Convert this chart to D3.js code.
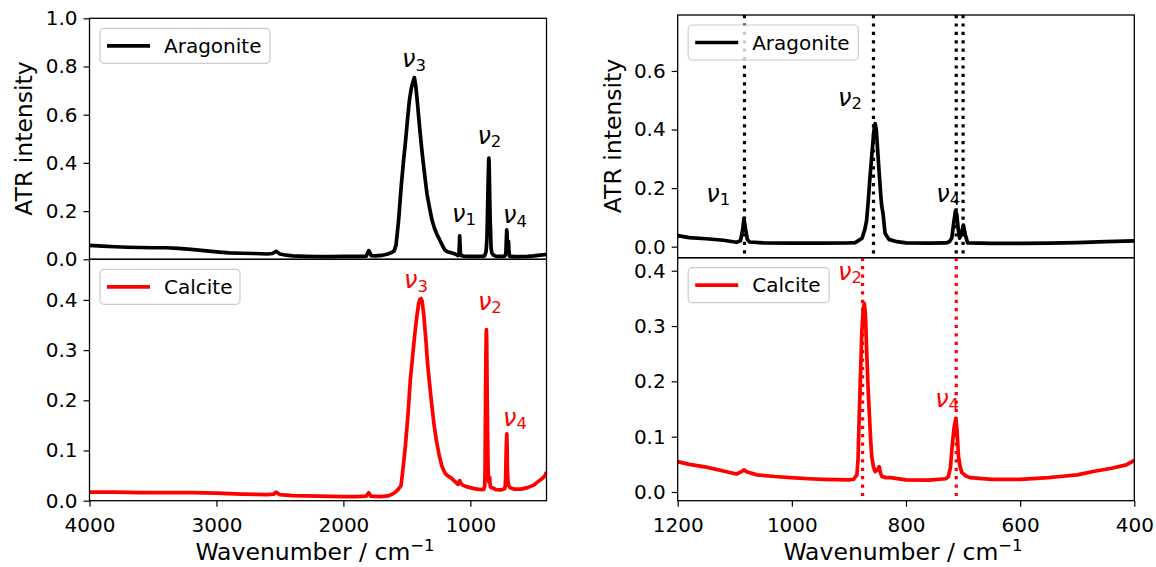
<!DOCTYPE html>
<html>
<head>
<meta charset="utf-8">
<script src="https://cdn.jsdelivr.net/npm/d3@7"></script>
<style>
  body { margin: 0; background: #ffffff; }
  svg { display: block; }
  text { font-family: "DejaVu Sans", sans-serif; fill: #000; }
</style>
</head>
<body>
<svg id="fig" width="1156" height="567"></svg>
<script>
// ---- ATR spectra (wavenumber in cm^-1, intensity) ----
const aragoniteWn = [4000, 3900, 3800, 3700, 3600, 3500, 3400, 3300, 3200, 3100, 3000, 2900, 2800, 2700, 2600, 2560, 2530, 2500, 2450, 2400, 2300, 2200, 2100, 2000, 1900, 1820, 1800, 1780, 1750, 1700, 1650, 1620, 1600, 1585, 1565, 1545, 1526, 1512, 1495, 1480, 1465, 1455, 1441, 1430, 1415, 1400, 1385, 1373, 1355, 1341, 1320, 1302, 1280, 1260, 1236, 1215, 1200, 1180, 1150, 1120, 1097, 1090, 1086, 1084, 1082, 1078, 1074, 1050, 1000, 950, 900, 889, 877, 872, 869, 866, 863, 860, 857, 855, 854, 852, 849, 846.6, 844, 842.4, 840, 838, 836.6, 830, 816, 800, 760, 730, 724, 719.7, 716.6, 713.4, 711, 708.5, 706, 703, 699.4, 696, 692, 650, 600, 550, 500, 450, 400];
const aragoniteI = [0.058, 0.055, 0.052, 0.050, 0.049, 0.048, 0.048, 0.045, 0.041, 0.036, 0.031, 0.027, 0.025, 0.024, 0.022, 0.024, 0.033, 0.022, 0.017, 0.014, 0.012, 0.011, 0.011, 0.012, 0.012, 0.013, 0.036, 0.015, 0.014, 0.016, 0.022, 0.028, 0.035, 0.060, 0.163, 0.300, 0.410, 0.480, 0.580, 0.660, 0.710, 0.730, 0.754, 0.720, 0.640, 0.550, 0.470, 0.410, 0.330, 0.270, 0.210, 0.163, 0.125, 0.100, 0.075, 0.052, 0.038, 0.031, 0.027, 0.022, 0.015, 0.020, 0.060, 0.097, 0.070, 0.025, 0.016, 0.013, 0.012, 0.012, 0.013, 0.014, 0.029, 0.060, 0.090, 0.160, 0.240, 0.310, 0.380, 0.415, 0.420, 0.400, 0.310, 0.240, 0.170, 0.137, 0.110, 0.070, 0.046, 0.025, 0.017, 0.013, 0.012, 0.013, 0.017, 0.030, 0.078, 0.122, 0.110, 0.060, 0.029, 0.045, 0.074, 0.040, 0.013, 0.011, 0.011, 0.012, 0.014, 0.017, 0.020];

const calciteWn = [4000, 3800, 3600, 3400, 3200, 3000, 2800, 2600, 2550, 2530, 2500, 2400, 2200, 2000, 1900, 1820, 1800, 1785, 1700, 1640, 1600, 1570, 1546, 1530, 1512, 1490, 1473, 1450, 1434, 1420, 1407, 1395, 1389, 1380, 1368, 1350, 1337, 1320, 1302, 1285, 1268, 1245, 1223, 1200, 1180, 1150, 1120, 1097, 1088, 1084, 1078, 1061, 1030, 1002, 970, 945, 900, 892, 886, 884, 882, 879.5, 877.5, 875, 873, 871, 869, 866.5, 864, 862, 860, 857, 854, 850, 847, 845, 842.4, 835, 827, 800, 760, 730, 725.7, 722, 719.7, 716, 712.7, 710.5, 708, 705, 702, 695, 688, 650, 600, 550, 530, 500, 472, 440, 414, 400];
const calciteI = [0.017, 0.017, 0.016, 0.016, 0.016, 0.015, 0.013, 0.012, 0.013, 0.017, 0.012, 0.010, 0.009, 0.008, 0.008, 0.009, 0.016, 0.009, 0.008, 0.010, 0.015, 0.022, 0.030, 0.065, 0.108, 0.175, 0.240, 0.300, 0.340, 0.370, 0.393, 0.402, 0.403, 0.398, 0.373, 0.320, 0.274, 0.230, 0.187, 0.150, 0.121, 0.090, 0.068, 0.055, 0.050, 0.045, 0.038, 0.0325, 0.037, 0.040, 0.036, 0.031, 0.028, 0.026, 0.024, 0.023, 0.022, 0.023, 0.031, 0.060, 0.136, 0.220, 0.287, 0.330, 0.341, 0.320, 0.257, 0.190, 0.136, 0.095, 0.064, 0.045, 0.037, 0.040, 0.046, 0.036, 0.028, 0.026, 0.026, 0.022, 0.0215, 0.024, 0.028, 0.045, 0.076, 0.115, 0.133, 0.110, 0.064, 0.045, 0.035, 0.029, 0.026, 0.023, 0.023, 0.026, 0.028, 0.031, 0.037, 0.043, 0.049, 0.057];

// ---- axis ticks ----
const fullRangeTicks = [4000, 3000, 2000, 1000];
const zoomRangeTicks = [1200, 1000, 800, 600, 400];
const fullTopTicks = [0.0, 0.2, 0.4, 0.6, 0.8, 1.0];
const fullBottomTicks = [0.0, 0.1, 0.2, 0.3, 0.4];
const zoomTopTicks = [0.0, 0.2, 0.4, 0.6];
const zoomBottomTicks = [0.0, 0.1, 0.2, 0.3, 0.4];

// ---- band positions (dotted guides in the fingerprint region) ----
const aragoniteBands = [1083, 857, 712, 700];
const calciteBands = [876, 712];

// ---- mode labels: subscript index, wavenumber and intensity of the text baseline ----
const fullAragLabelSub = ["3", "2", "1", "4"];
const fullAragLabelWn = [1444, 850, 1050, 648];
const fullAragLabelY = [0.797, 0.48, 0.156, 0.149];
const fullCalcLabelSub = ["3", "2", "4"];
const fullCalcLabelWn = [1428, 846, 648];
const fullCalcLabelY = [0.423, 0.38, 0.149];
const zoomAragLabelSub = ["1", "2", "4"];
const zoomAragLabelWn = [1129, 898, 726];
const zoomAragLabelY = [0.154, 0.481, 0.154];
const zoomCalcLabelSub = ["2", "4"];
const zoomCalcLabelWn = [898, 728];
const zoomCalcLabelY = [0.384, 0.154];

const svg = d3.select("#fig");
const aragonite = aragoniteWn.map((w, i) => ({ wn: w, v: aragoniteI[i] }));
const calcite = calciteWn.map((w, i) => ({ wn: w, v: calciteI[i] }));
const zip = (sub, wn, y) => sub.map((s, i) => ({ sub: s, wn: wn[i], y: y[i] }));

let clipId = 0;
function panel(cfg) {
  const x = d3.scaleLinear().domain(cfg.xDomain).range([cfg.left, cfg.right]);
  const y = d3.scaleLinear().domain(cfg.yDomain).range([cfg.bottom, cfg.top]);
  const g = svg.append("g");
  const id = "clip" + (clipId++);
  svg.append("clipPath").attr("id", id).append("rect")
    .attr("x", cfg.left).attr("y", cfg.top)
    .attr("width", cfg.right - cfg.left).attr("height", cfg.bottom - cfg.top);

  const plot = g.append("g").attr("clip-path", `url(#${id})`);
  plot.append("path").datum(cfg.data)
    .attr("fill", "none").attr("stroke", cfg.color).attr("stroke-width", 3.7)
    .attr("stroke-linejoin", "round")
    .attr("d", d3.line().x(d => x(d.wn)).y(d => y(d.v)));

  if (cfg.bands) {
    plot.selectAll("line.band").data(cfg.bands).enter().append("line")
      .attr("class", "band")
      .attr("x1", d => x(d)).attr("x2", d => x(d))
      .attr("y1", cfg.top).attr("y2", cfg.bottom)
      .attr("stroke", cfg.color).attr("stroke-width", 3.2)
      .attr("stroke-dasharray", "3.2,5.2");
  }

  // mode labels
  cfg.labels.forEach(l => {
    const t = g.append("text")
      .attr("x", x(l.wn)).attr("y", y(l.y))
      .attr("text-anchor", "middle").attr("font-size", 24)
      .style("fill", cfg.color);
    t.append("tspan").attr("font-style", "italic").text("\u03bd");
    t.append("tspan").attr("font-size", 16.5).attr("dy", 3.5).text(l.sub);
  });

  // y axis
  const ya = g.append("g").attr("transform", `translate(${cfg.left},0)`)
    .call(d3.axisLeft(y).tickValues(cfg.yTicks).tickFormat(d3.format(".1f"))
      .tickSize(6).tickPadding(6).tickSizeOuter(0));
  ya.select(".domain").remove();
  ya.selectAll("line").attr("stroke", "#000").attr("stroke-width", 1.2);
  ya.selectAll("text").attr("font-size", 20).attr("font-family", "DejaVu Sans").style("fill", "#000");

  if (cfg.xTicks) {
    const xa = g.append("g").attr("transform", `translate(0,${cfg.bottom})`)
      .call(d3.axisBottom(x).tickValues(cfg.xTicks).tickFormat(d3.format("d"))
        .tickSize(6).tickPadding(11).tickSizeOuter(0));
    xa.select(".domain").remove();
    xa.selectAll("line").attr("stroke", "#000").attr("stroke-width", 1.2);
    xa.selectAll("text").attr("font-size", 20).attr("font-family", "DejaVu Sans").style("fill", "#000");
  }

  // frame
  g.append("rect").attr("x", cfg.left).attr("y", cfg.top)
    .attr("width", cfg.right - cfg.left).attr("height", cfg.bottom - cfg.top)
    .attr("fill", "none").attr("stroke", "#000").attr("stroke-width", 1.3);

  // legend
  const lx = cfg.left + 10.5, ly = cfg.top + 10;
  const lg = g.append("g");
  lg.append("rect").attr("x", lx).attr("y", ly).attr("width", cfg.legendWidth).attr("height", 35)
    .attr("rx", 4).attr("fill", "#ffffff").attr("fill-opacity", 0.8)
    .attr("stroke", "#cccccc").attr("stroke-width", 1.2);
  lg.append("line").attr("x1", lx + 7).attr("x2", lx + 50)
    .attr("y1", ly + 17.5).attr("y2", ly + 17.5)
    .attr("stroke", cfg.color).attr("stroke-width", 3.7);
  lg.append("text").attr("x", lx + 64).attr("y", ly + 24.5)
    .attr("font-size", 20).text(cfg.legend);
}

const L = { left: 89.5, right: 546.5 };
const R = { left: 677.7, right: 1134.3 };

panel({ ...L, top: 18.3, bottom: 259.3, xDomain: [4000, 400], yDomain: [0, 1],
  yTicks: fullTopTicks, xTicks: null, data: aragonite, color: "#000000",
  legend: "Aragonite", legendWidth: 170, labels: zip(fullAragLabelSub, fullAragLabelWn, fullAragLabelY) });
panel({ ...L, top: 259.3, bottom: 500.7, xDomain: [4000, 400], yDomain: [0, 0.481],
  yTicks: fullBottomTicks, xTicks: fullRangeTicks, data: calcite, color: "#ff0000",
  legend: "Calcite", legendWidth: 140, labels: zip(fullCalcLabelSub, fullCalcLabelWn, fullCalcLabelY) });
panel({ ...R, top: 15, bottom: 257.7, xDomain: [1200, 400], yDomain: [-0.0376, 0.791],
  yTicks: zoomTopTicks, xTicks: null, data: aragonite, color: "#000000", bands: aragoniteBands,
  legend: "Aragonite", legendWidth: 170, labels: zip(zoomAragLabelSub, zoomAragLabelWn, zoomAragLabelY) });
panel({ ...R, top: 257.7, bottom: 500.7, xDomain: [1200, 400], yDomain: [-0.0157, 0.4235],
  yTicks: zoomBottomTicks, xTicks: zoomRangeTicks, data: calcite, color: "#ff0000", bands: calciteBands,
  legend: "Calcite", legendWidth: 141, labels: zip(zoomCalcLabelSub, zoomCalcLabelWn, zoomCalcLabelY) });

// axis titles
function yTitle(xPos, yPos) {
  svg.append("text").attr("transform", `translate(${xPos},${yPos}) rotate(-90)`)
    .attr("text-anchor", "middle").attr("font-size", 23.5).text("ATR intensity");
}
function xTitle(xPos, yPos) {
  const t = svg.append("text").attr("x", xPos).attr("y", yPos)
    .attr("text-anchor", "middle").attr("font-size", 23.5);
  t.append("tspan").text("Wavenumber / cm");
  t.append("tspan").attr("font-size", 16.5).attr("dy", -9).text("\u22121");
}
yTitle(32, 138.5);
yTitle(620.5, 136);
xTitle((L.left + L.right) / 2 - 3, 560);
xTitle((R.left + R.right) / 2 - 3, 560);
</script>
</body>
</html>
